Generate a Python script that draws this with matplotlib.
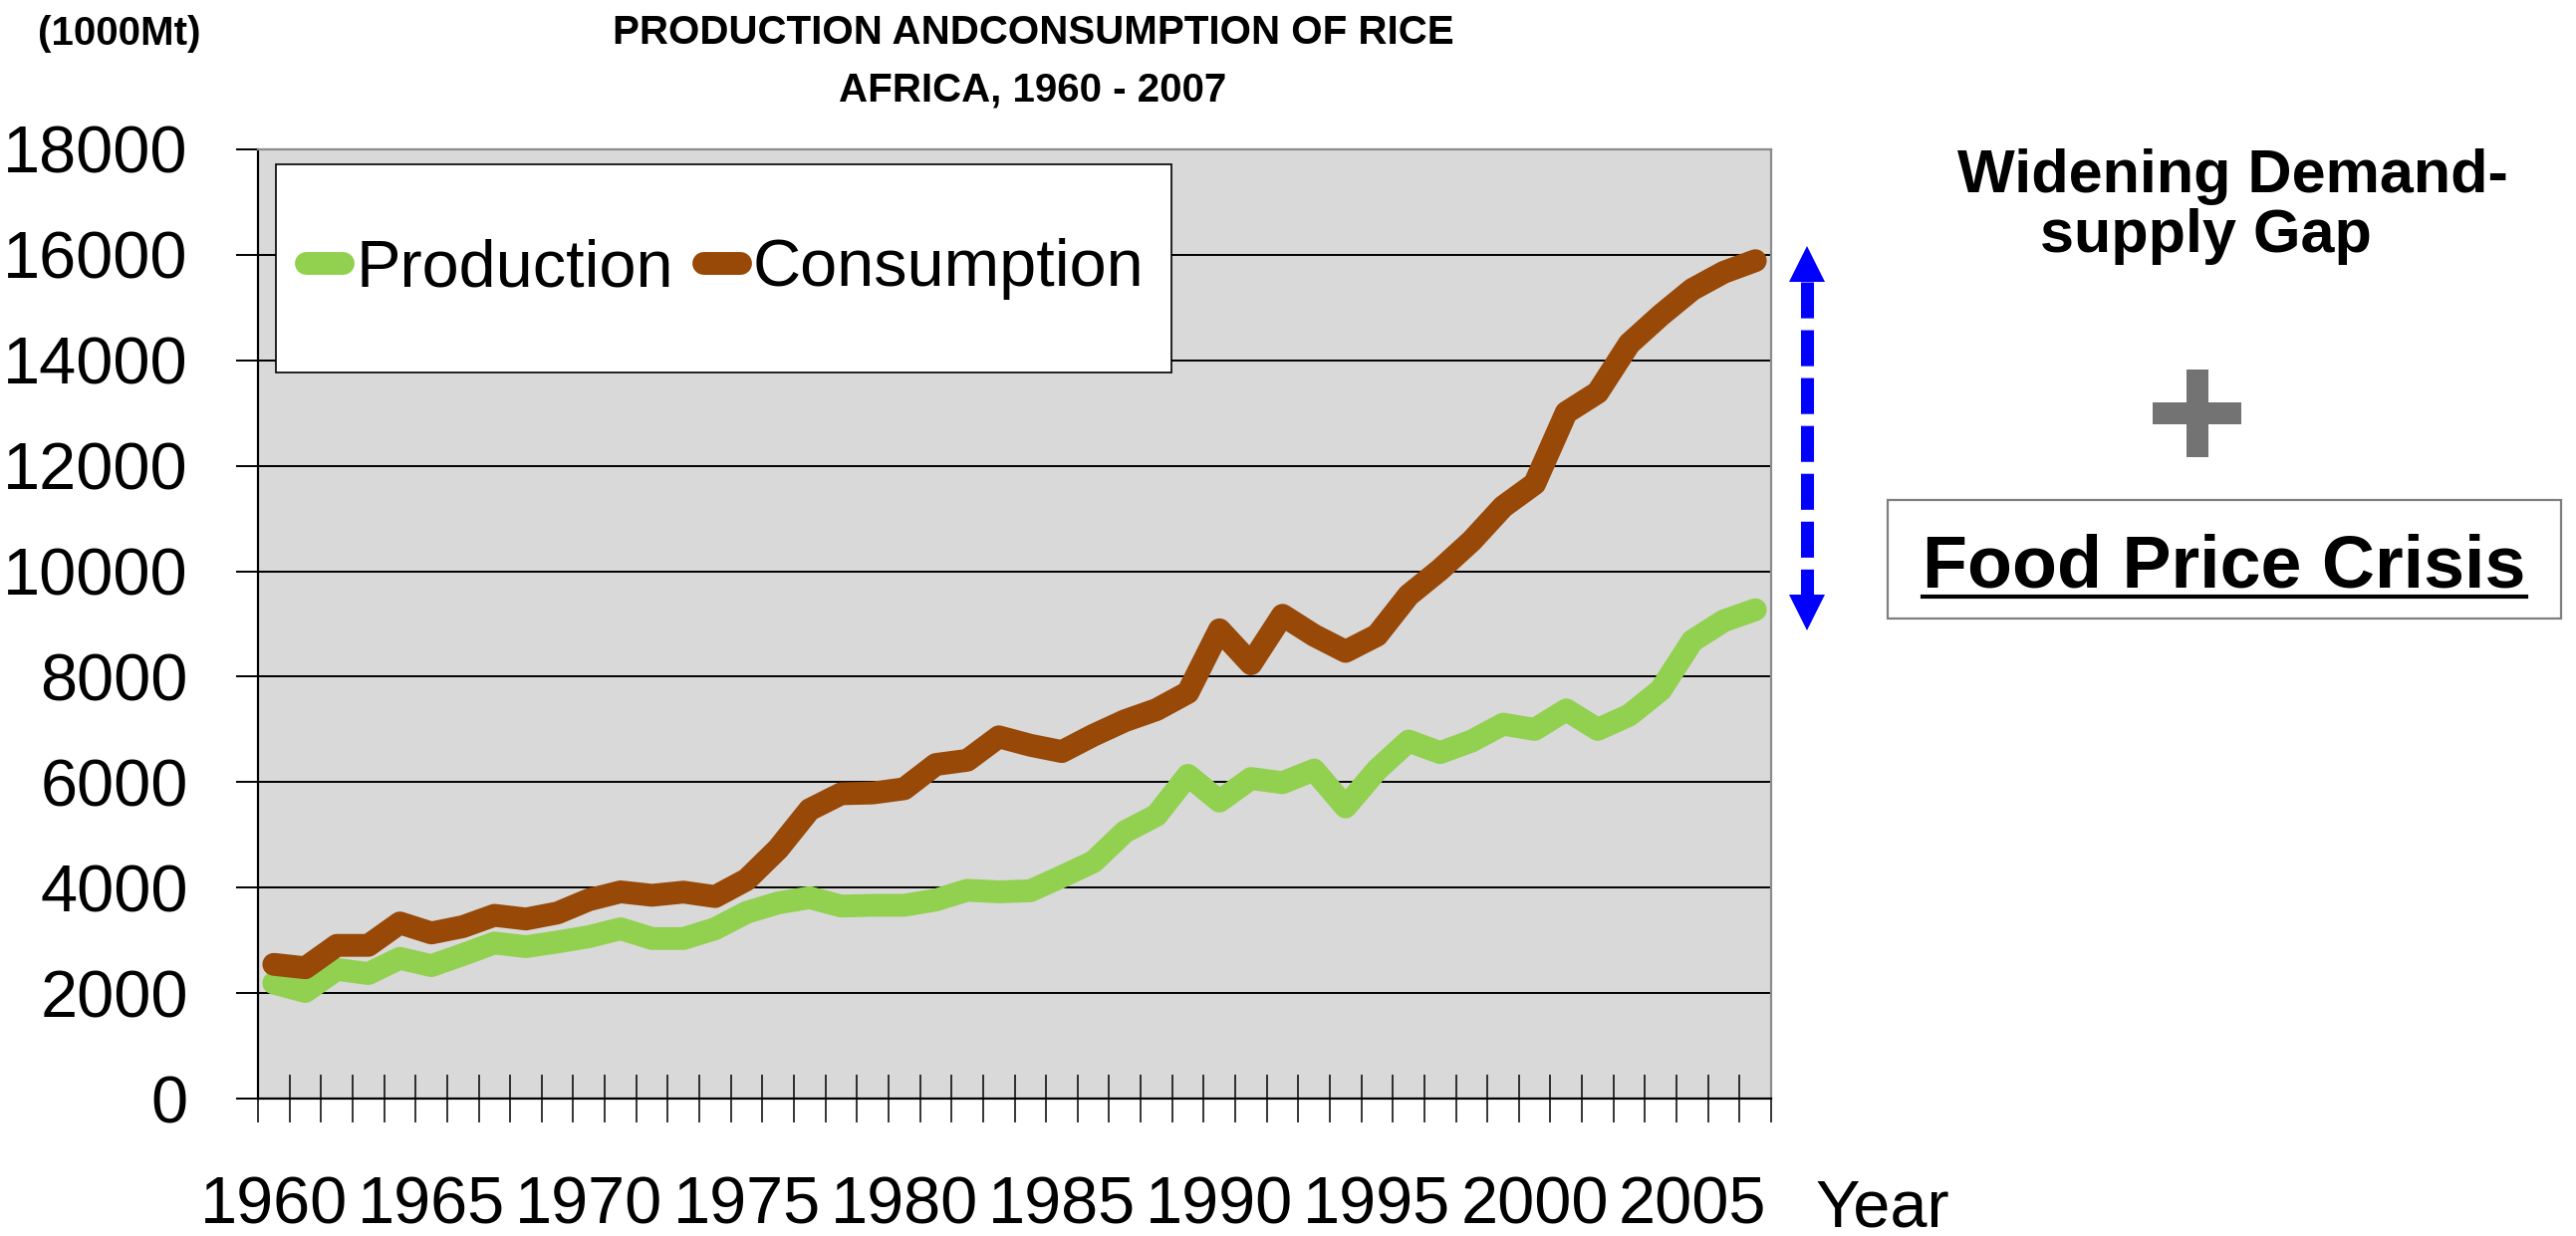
import numpy as np
import matplotlib
matplotlib.use("Agg")
import matplotlib.pyplot as plt
from matplotlib import font_manager
from matplotlib.lines import Line2D
from matplotlib.patches import Rectangle, Polygon

# Rice production / consumption in Africa, 1000 Mt
years = list(range(1960, 2008))
production = [2190, 2030, 2450, 2370, 2660, 2520, 2730, 2950, 2880, 2970,
              3070, 3220, 3035, 3035, 3220, 3530, 3710, 3810, 3650, 3665,
              3665, 3765, 3950, 3920, 3940, 4210, 4490, 5060, 5370, 6130,
              5640, 6070, 5990, 6230, 5530, 6235, 6780, 6560, 6780, 7100,
              7000, 7370, 7000, 7270, 7750, 8680, 9060, 9270]
consumption = [2545, 2480, 2905, 2905, 3330, 3140, 3260, 3475, 3405, 3520,
               3770, 3920, 3855, 3915, 3830, 4150, 4735, 5480, 5780, 5795,
               5875, 6335, 6415, 6860, 6700, 6580, 6890, 7165, 7375, 7700,
               8890, 8245, 9165, 8785, 8480, 8785, 9545, 10030, 10575, 11225,
               11660, 13010, 13390, 14315, 14855, 15345, 15670, 15890]
series_names = ["Production", "Consumption"]
label_years = list(range(1960, 2008, 5))
y_ticks = list(range(0, 18001, 2000))

GREEN = "#92D050"
BROWN = "#984807"
W, H = 2586, 1241

names = {f.name for f in font_manager.fontManager.ttflist}
NARROW = "Liberation Sans Narrow" if "Liberation Sans Narrow" in names else "Liberation Sans"
plt.rcParams["font.family"] = [NARROW, "DejaVu Sans"]
plt.rcParams["lines.scale_dashes"] = False


def fx(px):
    return px / W


def fy(py):
    return 1 - py / H


fig = plt.figure(figsize=(W / 100, H / 100), dpi=100)
ax = fig.add_axes([fx(259), fy(1103), fx(1778) - fx(259), fy(150) - fy(1103)])
ax.set_facecolor("#D9D9D9")

x = np.arange(len(years))
ax.plot(x, production, color=GREEN, lw=16.5, solid_capstyle="round",
        solid_joinstyle="round", label=series_names[0], zorder=3)
ax.plot(x, consumption, color=BROWN, lw=16.5, solid_capstyle="round",
        solid_joinstyle="round", label=series_names[1], zorder=3)

ax.set_xlim(-0.5, len(years) - 0.5)
ax.set_ylim(0, 18000)
ax.set_yticks(y_ticks)
ax.set_yticklabels([str(v) for v in y_ticks], fontsize=48)
ax.yaxis.grid(True, color="black", lw=1.4)
ax.set_axisbelow(True)

# ticks between categories, labels on every fifth year
ax.set_xticks(np.arange(-0.5, len(years)), labels=[])
ax.set_xticks([years.index(yr) for yr in label_years], minor=True)
ax.set_xticklabels([str(yr) for yr in label_years], minor=True, fontsize=48)
ax.tick_params(axis="x", which="major", direction="inout", length=35, width=1.1)
ax.tick_params(axis="x", which="minor", length=0, pad=56)
ax.tick_params(axis="y", direction="inout", length=31, width=1.4, pad=35)

for side in ("left", "bottom"):
    ax.spines[side].set_color("black")
    ax.spines[side].set_linewidth(1.6)
for side in ("top", "right"):
    ax.spines[side].set_color("#8C8C8C")
    ax.spines[side].set_linewidth(1.6)

# legend box
ax.add_patch(Rectangle((fx(277), fy(374)), fx(1176) - fx(277), fy(165) - fy(374),
                       transform=fig.transFigure, facecolor="white",
                       edgecolor="black", lw=1.2, zorder=4))
leg = ax.legend(loc="center", bbox_to_anchor=(fx(728), fy(270)),
                bbox_transform=fig.transFigure, frameon=False, ncol=2,
                fontsize=48, handlelength=0.55, handletextpad=0.2,
                columnspacing=0.45)
leg.set_zorder(5)

# titles and axis captions
bold = dict(fontweight="bold", fontsize=29)
fig.text(fx(1037), fy(44), "PRODUCTION ANDCONSUMPTION OF RICE", ha="center",
         va="baseline", **bold)
fig.text(fx(1037), fy(102), "AFRICA, 1960 - 2007", ha="center", va="baseline", **bold)
fig.text(fx(120), fy(45), "(1000Mt)", ha="center", va="baseline", **bold)
fig.text(fx(1890), fy(1232), "Year", ha="center", va="baseline", fontsize=48)

# dashed double arrow showing the gap
arrow_x = fx(1814)
fig.add_artist(Line2D([arrow_x, arrow_x], [fy(283), fy(597)], color="blue",
                      lw=9.4, linestyle=(0, (26, 8.6)), dash_capstyle="butt"))
fig.add_artist(Polygon([[fx(1796), fy(283)], [fx(1832), fy(283)], [arrow_x, fy(247)]],
                       closed=True, color="blue", lw=0))
fig.add_artist(Polygon([[fx(1796), fy(597)], [fx(1832), fy(597)], [arrow_x, fy(633)]],
                       closed=True, color="blue", lw=0))

arial = ["Liberation Sans", "DejaVu Sans"]
fig.text(fx(2241), fy(193), "Widening Demand-", ha="center", va="baseline",
         fontsize=44, fontweight="bold", family=arial)
fig.text(fx(2214), fy(253), "supply Gap", ha="center", va="baseline",
         fontsize=44, fontweight="bold", family=arial)

# grey plus sign
fig.add_artist(Rectangle((fx(2195), fy(459)), fx(2217) - fx(2195), fy(371) - fy(459),
                         color="#737373", lw=0))
fig.add_artist(Rectangle((fx(2161), fy(426)), fx(2250) - fx(2161), fy(404) - fy(426),
                         color="#737373", lw=0))

# boxed, underlined caption
fig.add_artist(Rectangle((fx(1895), fy(621)), fx(2571) - fx(1895), fy(502) - fy(621),
                         facecolor="white", edgecolor="#7F7F7F", lw=1.6))
crisis = fig.text(fx(2233), fy(589), "Food Price Crisis", ha="center", va="baseline",
                  fontsize=53, fontweight="bold", family=arial)
fig.canvas.draw()
bb = crisis.get_window_extent()
fig.add_artist(Line2D([bb.x0 / W, bb.x1 / W], [fy(599), fy(599)], color="black", lw=3))

fig.savefig("out.png", dpi=100)
